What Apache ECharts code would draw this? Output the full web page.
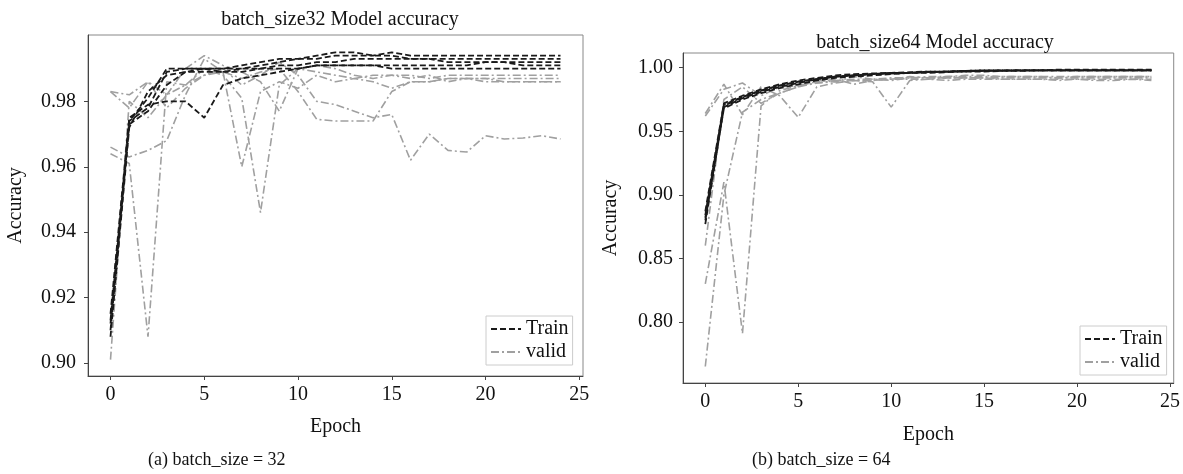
<!DOCTYPE html>
<html>
<head>
<meta charset="utf-8">
<script src="https://cdn.jsdelivr.net/npm/echarts@6/dist/echarts.min.js"></script>
<style>html,body{margin:0;padding:0;background:#fff}#c{width:1183px;height:474px}</style>
</head>
<body>
<div id="c"></div>
<script>
var epochs = [0,1,2,3,4,5,6,7,8,9,10,11,12,13,14,15,16,17,18,19,20,21,22,23,24];
var xTicks = [0,5,10,15,20,25];
var yTicksA = [0.90,0.92,0.94,0.96,0.98];
var yTicksB = [0.80,0.85,0.90,0.95,1.00];

// (a) batch_size = 32
var trainA1 = [0.913,0.974,0.978,0.989,0.990,0.990,0.990,0.990,0.991,0.992,0.993,0.993,0.994,0.994,0.994,0.995,0.994,0.994,0.994,0.994,0.994,0.994,0.994,0.994,0.994];
var trainA2 = [0.910,0.973,0.977,0.985,0.989,0.989,0.989,0.990,0.990,0.991,0.991,0.992,0.992,0.993,0.993,0.993,0.993,0.993,0.993,0.993,0.993,0.993,0.993,0.993,0.993];
var trainA3 = [0.915,0.975,0.979,0.980,0.980,0.975,0.985,0.987,0.988,0.989,0.990,0.991,0.991,0.991,0.991,0.990,0.990,0.990,0.990,0.990,0.990,0.990,0.990,0.990,0.990];
var trainA4 = [0.908,0.972,0.983,0.988,0.989,0.990,0.990,0.991,0.992,0.993,0.993,0.994,0.995,0.995,0.994,0.994,0.993,0.993,0.992,0.992,0.992,0.992,0.992,0.992,0.992];
var trainA5 = [0.912,0.974,0.981,0.990,0.990,0.990,0.989,0.989,0.990,0.990,0.990,0.991,0.991,0.991,0.991,0.991,0.991,0.991,0.991,0.991,0.992,0.992,0.991,0.991,0.991];
var validA1 = [0.983,0.982,0.986,0.978,0.984,0.988,0.990,0.985,0.988,0.992,0.988,0.980,0.979,0.977,0.975,0.976,0.962,0.970,0.965,0.9645,0.9695,0.9685,0.9688,0.9695,0.9685];
var validA2 = [0.964,0.961,0.908,0.986,0.985,0.988,0.989,0.987,0.989,0.990,0.983,0.9745,0.974,0.974,0.974,0.983,0.986,0.986,0.987,0.987,0.987,0.987,0.987,0.987,0.987];
var validA3 = [0.901,0.980,0.975,0.982,0.985,0.990,0.988,0.981,0.946,0.985,0.990,0.989,0.988,0.987,0.988,0.988,0.987,0.988,0.986,0.987,0.987,0.986,0.986,0.986,0.986];
var validA4 = [0.966,0.963,0.965,0.968,0.982,0.993,0.989,0.960,0.983,0.986,0.984,0.988,0.986,0.987,0.986,0.984,0.986,0.986,0.987,0.987,0.986,0.986,0.986,0.986,0.986];
var validA5 = [0.983,0.978,0.986,0.982,0.990,0.994,0.991,0.989,0.986,0.977,0.990,0.991,0.990,0.988,0.987,0.988,0.988,0.987,0.988,0.988,0.988,0.988,0.988,0.988,0.988];

// (b) batch_size = 64
var trainB1 = [0.877,0.969,0.976,0.981,0.985,0.988,0.991,0.993,0.994,0.995,0.9955,0.996,0.9965,0.997,0.997,0.9975,0.9975,0.998,0.998,0.998,0.998,0.998,0.998,0.998,0.998];
var trainB2 = [0.882,0.970,0.977,0.982,0.986,0.989,0.991,0.993,0.994,0.995,0.996,0.996,0.997,0.997,0.9975,0.998,0.998,0.998,0.998,0.9985,0.9985,0.9985,0.9985,0.9985,0.9985];
var trainB3 = [0.887,0.972,0.978,0.983,0.987,0.990,0.992,0.994,0.995,0.9955,0.996,0.9965,0.997,0.997,0.9975,0.998,0.998,0.998,0.998,0.998,0.998,0.998,0.998,0.998,0.998];
var trainB4 = [0.880,0.968,0.975,0.980,0.984,0.987,0.990,0.992,0.993,0.994,0.995,0.996,0.996,0.9965,0.997,0.997,0.9975,0.9975,0.998,0.998,0.998,0.998,0.998,0.998,0.998];
var trainB5 = [0.884,0.971,0.977,0.982,0.986,0.989,0.991,0.993,0.994,0.995,0.9955,0.996,0.9965,0.997,0.9975,0.9975,0.998,0.998,0.998,0.998,0.998,0.998,0.998,0.998,0.998];
var validB1 = [0.765,0.900,0.965,0.975,0.980,0.985,0.988,0.990,0.991,0.991,0.992,0.992,0.992,0.993,0.993,0.993,0.993,0.993,0.993,0.992,0.993,0.993,0.993,0.993,0.993];
var validB2 = [0.830,0.910,0.791,0.970,0.982,0.986,0.988,0.989,0.990,0.990,0.991,0.991,0.991,0.992,0.992,0.992,0.992,0.992,0.992,0.992,0.992,0.992,0.992,0.992,0.992];
var validB3 = [0.964,0.987,0.963,0.985,0.978,0.961,0.985,0.988,0.990,0.989,0.969,0.990,0.991,0.990,0.991,0.991,0.991,0.991,0.991,0.990,0.991,0.990,0.990,0.991,0.990];
var validB4 = [0.860,0.975,0.985,0.972,0.980,0.985,0.990,0.989,0.993,0.991,0.990,0.992,0.993,0.993,0.994,0.994,0.993,0.993,0.993,0.993,0.993,0.993,0.993,0.993,0.993];
var validB5 = [0.962,0.983,0.988,0.978,0.985,0.986,0.989,0.991,0.987,0.990,0.991,0.993,0.992,0.992,0.992,0.992,0.991,0.991,0.991,0.991,0.991,0.991,0.991,0.991,0.991];

var trainsA = [trainA1,trainA2,trainA3,trainA4,trainA5];
var validsA = [validA1,validA2,validA3,validA4,validA5];
var trainsB = [trainB1,trainB2,trainB3,trainB4,trainB5];
var validsB = [validB1,validB2,validB3,validB4,validB5];

var FONT = '"Liberation Serif", "DejaVu Serif", serif';

function pairs(arr){ return epochs.map(function(e,i){ return [e, arr[i]]; }); }

var series = [];
function addSeries(list, name, idx, style){
  list.forEach(function(arr){
    series.push({
      type:'line', name:name, xAxisIndex:idx, yAxisIndex:idx,
      data:pairs(arr), symbol:'none', silent:true, animation:false,
      color:style.color, itemStyle:{color:style.color},
      lineStyle:style
    });
  });
}
var validStyle = {color:'#a0a0a0', width:1.6, type:[8,3,2,3]};
var trainStyle = {color:'#1a1a1a', width:1.8, type:[6,3]};
addSeries(validsA,'valid',0,validStyle);
addSeries(trainsA,'Train',0,trainStyle);
addSeries(validsB,'valid',1,validStyle);
addSeries(trainsB,'Train',1,trainStyle);

function xAxis(idx, gap, margin){
  return {
    type:'value', gridIndex:idx, min:-1.2, max:25.2,
    name:'Epoch', nameLocation:'middle', nameGap:gap,
    nameTextStyle:{fontFamily:FONT, fontSize:20, color:'#111'},
    splitLine:{show:false},
    axisLine:{show:true, onZero:false, lineStyle:{color:'#444', width:1}},
    axisTick:{show:true, length:4, customValues:xTicks, lineStyle:{color:'#444'}},
    axisLabel:{customValues:xTicks, fontFamily:FONT, fontSize:20, color:'#111', margin:margin}
  };
}
function yAxis(idx, min, max, ticks, gap, margin){
  return {
    type:'value', gridIndex:idx, min:min, max:max,
    name:'Accuracy', nameLocation:'middle', nameGap:gap, nameRotate:90,
    nameTextStyle:{fontFamily:FONT, fontSize:20, color:'#111'},
    splitLine:{show:false},
    axisLine:{show:true, onZero:false, lineStyle:{color:'#444', width:1}},
    axisTick:{show:true, length:4, customValues:ticks, lineStyle:{color:'#444'}},
    axisLabel:{customValues:ticks, fontFamily:FONT, fontSize:20, color:'#111', margin:margin,
      formatter:function(v){ return v.toFixed(2); }}
  };
}

var legendBase = {
  data:['Train','valid'], orient:'vertical', itemGap:3, itemWidth:30, itemHeight:14,
  padding:[3,4,3,4], borderColor:'#ccc', borderWidth:1, backgroundColor:'#fff',
  itemStyle:{opacity:0},
  textStyle:{fontFamily:FONT, fontSize:20, color:'#111'}, selectedMode:false
};

var chart = echarts.init(document.getElementById('c'), null, {renderer:'canvas'});
chart.setOption({
  backgroundColor:'#fff',
  animation:false,
  title:[
    {text:'batch_size32 Model accuracy', left:335, top:5, textAlign:'center',
     textStyle:{fontFamily:FONT, fontSize:20, fontWeight:'normal', color:'#111'}},
    {text:'batch_size64 Model accuracy', left:930, top:28, textAlign:'center',
     textStyle:{fontFamily:FONT, fontSize:20, fontWeight:'normal', color:'#111'}}
  ],
  grid:[
    {left:88, top:35, width:495, height:341, show:true, borderColor:'#888', borderWidth:1, containLabel:false},
    {left:683, top:53, width:492, height:330, show:true, borderColor:'#888', borderWidth:1, containLabel:false}
  ],
  xAxis:[xAxis(0,41,9), xAxis(1,42,9)],
  yAxis:[yAxis(0,0.896,1.0003,yTicksA,62,12), yAxis(1,0.752,1.0116,yTicksB,62,10)],
  legend:[
    Object.assign({left:486, top:316}, legendBase),
    Object.assign({left:1080, top:326}, legendBase)
  ],
  graphic:[
    {type:'text', left:148, top:451, style:{text:'(a) batch_size = 32', font:'18px "Liberation Serif", serif', fill:'#111'}},
    {type:'text', left:752, top:451, style:{text:'(b) batch_size = 64', font:'18px "Liberation Serif", serif', fill:'#111'}}
  ],
  series:series
});
</script>
</body>
</html>
